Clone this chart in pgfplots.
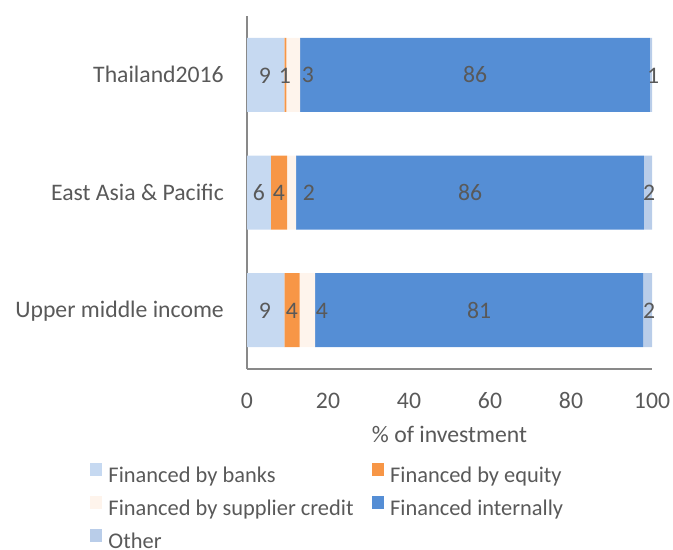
\documentclass[border=0pt]{standalone}
\usepackage{pgfplots}
\pgfplotsset{compat=1.18}
\usepackage{fontspec}
\setmainfont{Carlito}
\definecolor{txt}{HTML}{595959}
\definecolor{cBanks}{HTML}{C6D9F1}
\definecolor{cEquity}{HTML}{F79646}
\definecolor{cSupp}{HTML}{FEF4EC}
\definecolor{cInt}{HTML}{558ED5}
\definecolor{cOther}{HTML}{B9CDE9}
\definecolor{axgray}{HTML}{898989}
\newcommand\cf{\fontsize{23.8}{28}\selectfont}
\newcommand\lf{\fontsize{22.5}{27}\selectfont}
\begin{document}
\begin{tikzpicture}
\path[use as bounding box] (0,0) rectangle (673bp,-550bp);
\pgfplotsset{
  base/.style={scale only axis, width=405bp, height=353bp, xmin=0, xmax=100, ymin=-0.5, ymax=2.5, at={(247bp,-369bp)}, anchor=south west},
  myleg/.style={legend image code/.code={\fill[##1] (0bp,1bp) rectangle (12.5bp,13.5bp);}}
}
\begin{axis}[base, xbar stacked, bar width=74bp,
  axis x line*=bottom, axis y line*=left,
  axis line style={-, draw=axgray, line width=1.2bp},
  xtick={0,20,...,100}, ytick={0,1,2},
  yticklabels={Upper middle income, East Asia \& Pacific, Thailand2016},
  major tick length=0pt, tick style={draw=none},
  /pgf/number format/assume math mode=true,
  xticklabel style={anchor=base, inner sep=0pt, yshift=-39bp, text=txt, font=\cf},
  yticklabel style={anchor=base east, inner sep=0pt, xshift=-23bp, yshift=-7.5bp, text=txt, font=\cf},
  xlabel={\% of investment},
  xlabel style={at={(axis description cs:0.5,-0.2096)}, anchor=base, inner sep=0pt, text=txt, font=\cf},
  legend columns=2, legend cell align=left,
  legend style={at={(axis description cs:-0.3877,-0.2663)}, anchor=north west, draw=none, fill=none, inner sep=0pt, outer sep=0pt, font=\lf, text=txt, row sep=9bp, nodes={inner sep=0pt, text height=16bp, text depth=5bp}, /tikz/every even column/.append style={column sep=18bp}, /tikz/every odd column/.append style={column sep=6bp}},
]
\addplot[fill=cBanks, draw=none, myleg] coordinates {(9.2,2) (5.9,1) (9.2,0)};
\addlegendentry{Financed by banks}
\addplot[fill=cEquity, draw=none, myleg] coordinates {(0.5,2) (4.0,1) (3.8,0)};
\addlegendentry{Financed by equity}
\addplot[fill=cSupp, draw=none, myleg] coordinates {(3.4,2) (2.2,1) (3.8,0)};
\addlegendentry{Financed by supplier credit}
\addplot[fill=cInt, draw=none, myleg] coordinates {(86.4,2) (85.9,1) (81.0,0)};
\addlegendentry{Financed internally}
\addplot[fill=cOther, draw=none, myleg] coordinates {(0.5,2) (2.0,1) (2.2,0)};
\addlegendentry{Other}
\end{axis}
\begin{axis}[base, hide axis, clip=false]
\addplot[draw=none, mark=none, nodes near coords, point meta=explicit symbolic,
  every node near coord/.append style={anchor=south, inner sep=0pt, yshift=-8.5bp, font=\cf, text=txt}]
  table[meta=lab] {
x y lab
4.44 2 9
9.38 2 1
15.06 2 3
56.3 2 86
100.25 2 1
2.96 1 6
7.9 1 4
15.3 1 2
55.1 1 86
99.3 1 2
4.44 0 9
11.1 0 4
18.5 0 4
57.3 0 81
99.3 0 2
};
\end{axis}
\end{tikzpicture}
\end{document}
